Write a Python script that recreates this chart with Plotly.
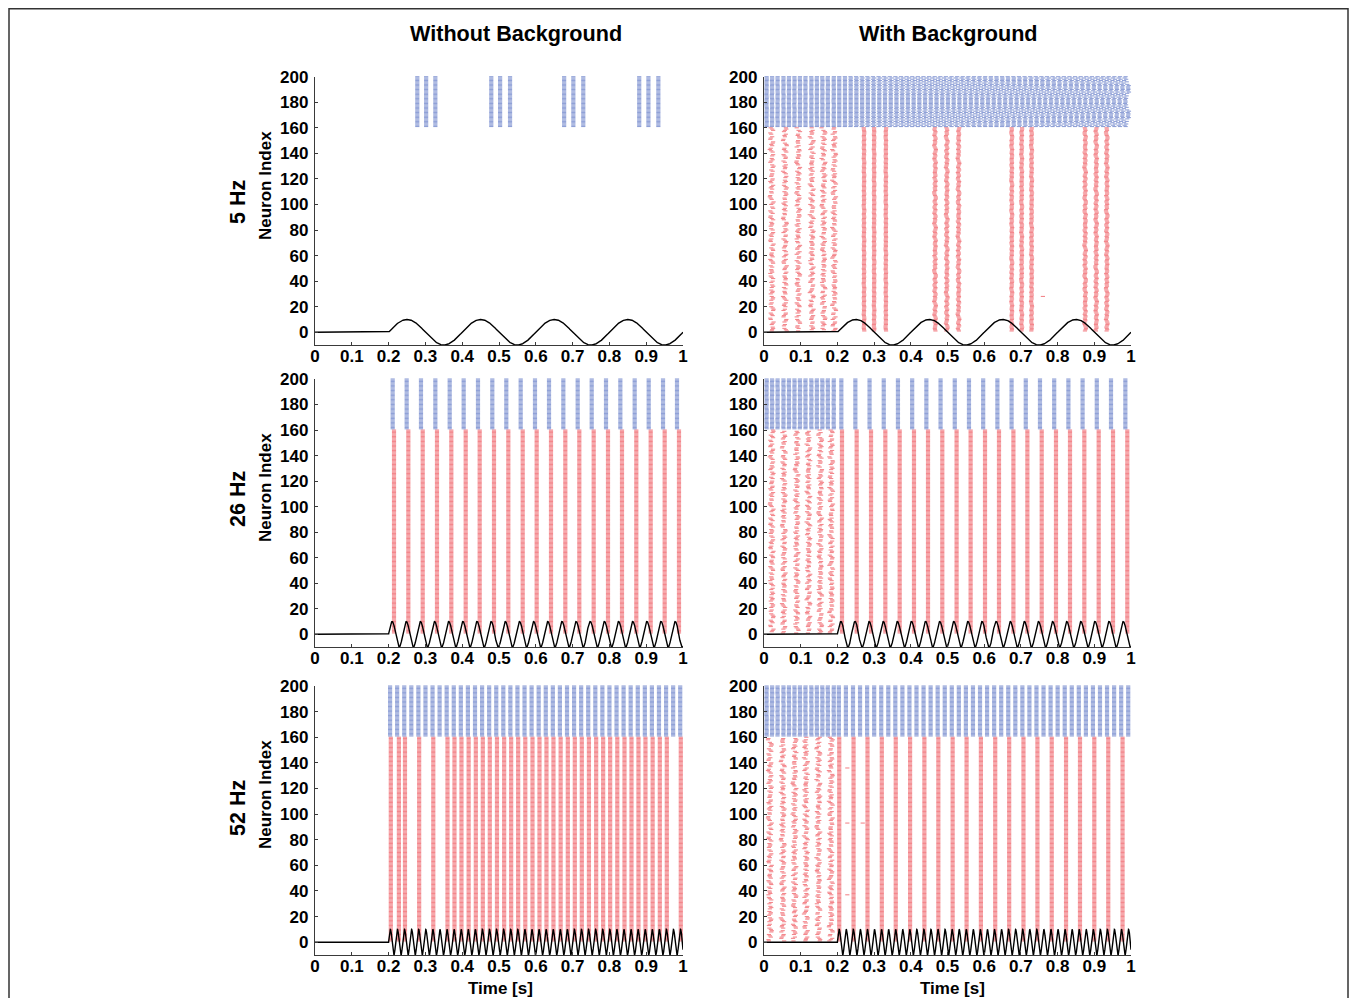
import math
import plotly.graph_objects as go

# reference canvas is 1357x998; the page body adds an 8 px margin
REF_W, REF_H = 1357, 998
OFF = 8
W, H = REF_W - 2 * OFF, REF_H - OFF

# ------------------------------------------------------------------ data
TIME_TICKS = [0, 0.1, 0.2, 0.3, 0.4, 0.5, 0.6, 0.7, 0.8, 0.9, 1]
TIME_TICK_LABELS = ["0", "0.1", "0.2", "0.3", "0.4", "0.5", "0.6", "0.7", "0.8", "0.9", "1"]
NEURON_TICKS = [0, 20, 40, 60, 80, 100, 120, 140, 160, 180, 200]
NEURON_TICK_LABELS = ["0", "20", "40", "60", "80", "100", "120", "140", "160", "180", "200"]
ROW_LABELS = ["5 Hz", "26 Hz", "52 Hz"]
COLUMN_TITLES = ["Without Background", "With Background"]
Y_LABEL = "Neuron Index"
X_LABEL = "Time [s]"

STIM_FREQ_HZ = [5, 26, 52]
STIM_ONSET_S = 0.2
STIM_AMPLITUDE = 10

E_FIRST, E_LAST = 1, 160      # excitatory neurons (red)
I_FIRST, I_LAST = 161, 200    # inhibitory neurons (blue)

# ---- without background: synchronous volleys (s)
I_VOLLEYS_5HZ = [0.278, 0.302, 0.327, 0.479, 0.503, 0.530,
                 0.677, 0.702, 0.729, 0.881, 0.906, 0.933]
E_VOLLEYS_5HZ = []
I_VOLLEYS_26HZ = [0.2111, 0.2491, 0.2880, 0.3270, 0.3660, 0.4040, 0.4429,
                  0.4818, 0.5198, 0.5589, 0.5978, 0.6359, 0.6748, 0.7138,
                  0.7519, 0.7908, 0.8297, 0.8687, 0.9068, 0.9457, 0.9837]
E_VOLLEYS_26HZ = [0.2147, 0.2536, 0.2927, 0.3315, 0.3704, 0.4095, 0.4475,
                  0.4864, 0.5253, 0.5644, 0.6024, 0.6413, 0.6802, 0.7182,
                  0.7573, 0.7962, 0.8342, 0.8731, 0.9122, 0.9502, 0.9891]
I_VOLLEYS_52HZ = [0.2040, 0.2232, 0.2425, 0.2617, 0.2809, 0.3002, 0.3194,
                  0.3386, 0.3578, 0.3771, 0.3963, 0.4155, 0.4348, 0.4540,
                  0.4732, 0.4925, 0.5117, 0.5309, 0.5501, 0.5694, 0.5886,
                  0.6078, 0.6271, 0.6463, 0.6655, 0.6848, 0.7040, 0.7232,
                  0.7424, 0.7617, 0.7809, 0.8001, 0.8194, 0.8386, 0.8578,
                  0.8771, 0.8963, 0.9155, 0.9347, 0.9540, 0.9732, 0.9924]
E_VOLLEYS_52HZ = [0.2060, 0.2280, 0.2445, 0.2830, 0.3214, 0.3600, 0.3790,
                  0.3980, 0.4175, 0.4370, 0.4560, 0.4750, 0.4945, 0.5140,
                  0.5330, 0.5520, 0.5714, 0.5910, 0.6100, 0.6290, 0.6480,
                  0.6675, 0.6870, 0.7060, 0.7250, 0.7444, 0.7640, 0.7830,
                  0.8020, 0.8214, 0.8410, 0.8600, 0.8790, 0.8980, 0.9175,
                  0.9370, 0.9560, 0.9940]

# ---- with background
BG_I_VOLLEYS_PRE = [0.007, 0.022, 0.037, 0.053, 0.068, 0.083, 0.098,
                    0.113, 0.129, 0.144, 0.159, 0.174, 0.190]
BG_E_WAVES_PRE_5HZ = [0.021, 0.057, 0.093, 0.130, 0.162, 0.191]
BG_E_WAVES_PRE_26HZ = [0.021, 0.054, 0.089, 0.121, 0.153, 0.183]
BG_E_WAVES_PRE_52HZ = [0.016, 0.051, 0.083, 0.114, 0.148, 0.182]

BG_E_VOLLEYS_5HZ = [0.2725, 0.300, 0.332, 0.466, 0.498, 0.530,
                    0.675, 0.702, 0.729, 0.875, 0.905, 0.934]
BG_E_VOLLEY_SPREAD_5HZ = [0.2, 0.2, 0.2, 0.6, 0.6, 0.6,
                          0.35, 0.35, 0.35, 0.55, 0.55, 0.55]
# inhibitory firing periods (ms) after onset, 5 Hz with background
BG_I_PERIODS_5HZ_MS = [15.30, 15.87, 15.33, 15.84, 15.36, 15.81, 15.39, 15.78,
                       15.42, 15.75, 15.45, 15.72, 15.48, 15.69, 15.51, 15.66,
                       15.54, 15.63, 15.57, 15.60, 15.60, 15.57, 15.63, 15.54,
                       15.66, 15.51, 15.69, 15.48, 15.72, 15.45, 15.75, 15.42,
                       15.78, 15.39, 15.81, 15.36, 15.84, 15.33, 15.87, 15.30]

BG_I_VOLLEYS_26HZ = [0.2107, 0.2489, 0.2876, 0.3263, 0.3650, 0.4037, 0.4424,
                     0.4811, 0.5198, 0.5585, 0.5972, 0.6359, 0.6746, 0.7133,
                     0.7520, 0.7907, 0.8294, 0.8681, 0.9068, 0.9455, 0.9846]
BG_E_VOLLEYS_26HZ = [0.2125, 0.2525, 0.2916, 0.3306, 0.3697, 0.4087, 0.4469,
                     0.4858, 0.5248, 0.5630, 0.6022, 0.6403, 0.6796, 0.7176,
                     0.7567, 0.7956, 0.8338, 0.8728, 0.9120, 0.9510, 0.9899]
BG_I_VOLLEYS_52HZ = I_VOLLEYS_52HZ
BG_E_VOLLEYS_52HZ = [0.205, 0.244, 0.282, 0.321, 0.359, 0.398, 0.437,
                     0.475, 0.514, 0.552, 0.591, 0.630, 0.668, 0.707,
                     0.745, 0.784, 0.823, 0.861, 0.900, 0.938, 0.977]

BG_STRAY_E_5HZ_T = [0.760]
BG_STRAY_E_5HZ_N = [28]
BG_STRAY_E_52HZ_T = [0.227, 0.227, 0.269, 0.227]
BG_STRAY_E_52HZ_N = [136, 93, 93, 37]

# hand-read wiggle of the noisy volleys (ms) and which cells are silent
WIGGLE_MS = [0, 1, 3, 2, -1, 0, 2, 4, 1, -2, -3, -1, 2, 0, -2, 1, 3, 4, 2, -1,
             -4, -2, 0, 1, -1, 2, 3, 0, -3, -2, 1, 2, -1, -3, 0, 3, 1, -2, -1,
             2, 4, 3, 0, -2, -4, -3, 1, 0, -1, 2, 1, -2, 0, 3, 2, -1, -3, 1, 2, 0, -1]
ACTIVE = [1, 1, 1, 1, 0, 1, 1, 1, 0, 1, 1, 0, 1, 1, 1, 0, 1, 1, 1, 1, 0, 1,
          1, 0, 1, 1, 1, 1, 0]

RED = "rgba(238,78,86,0.68)"
BLUE = "rgba(92,116,196,0.68)"


# ------------------------------------------------------------------ helpers
def volleys(times, first, last, spread=None, shift0=0, drop=False):
    xs, ys = [], []
    for c, t in enumerate(times):
        s = 0.0 if spread is None else (spread[c] if isinstance(spread, list) else spread)
        for k, n in enumerate(range(first, last + 1)):
            if drop and ACTIVE[(k + 5 * c + shift0) % len(ACTIVE)] == 0:
                continue
            w = WIGGLE_MS[(k + 17 * c + shift0) % len(WIGGLE_MS)]
            xs.append(t + s * w / 1000.0)
            ys.append(n)
    return xs, ys


def periodic(onset, end, periods_ms, first):
    xs, ys = [], []
    for j, p in enumerate(periods_ms):
        t = onset + 0.005
        while t <= end:
            xs.append(t)
            ys.append(first + j)
            t += p / 1000.0
    return xs, ys


def stimulus(freq):
    ts = [i / 4000.0 for i in range(4001)]
    ys = [0.0 if t < STIM_ONSET_S else
          STIM_AMPLITUDE * math.sin(2 * math.pi * freq * (t - STIM_ONSET_S))
          for t in ts]
    return ts, ys


def merge(*parts):
    xs, ys = [], []
    for a, b in parts:
        xs += a
        ys += b
    return xs, ys


# ------------------------------------------------------------------ panels
panels = {}
panels[(0, 0)] = dict(e=volleys(E_VOLLEYS_5HZ, E_FIRST, E_LAST),
                      i=volleys(I_VOLLEYS_5HZ, I_FIRST, I_LAST))
panels[(1, 0)] = dict(e=volleys(E_VOLLEYS_26HZ, E_FIRST, E_LAST),
                      i=volleys(I_VOLLEYS_26HZ, I_FIRST, I_LAST))
panels[(2, 0)] = dict(e=volleys(E_VOLLEYS_52HZ, E_FIRST, E_LAST),
                      i=volleys(I_VOLLEYS_52HZ, I_FIRST, I_LAST))

pre_i = volleys(BG_I_VOLLEYS_PRE, I_FIRST, I_LAST, spread=0.12, shift0=3)
panels[(0, 1)] = dict(
    e=merge(volleys(BG_E_WAVES_PRE_5HZ, E_FIRST, E_LAST, spread=1.3, drop=True),
            volleys(BG_E_VOLLEYS_5HZ, E_FIRST, E_LAST, spread=BG_E_VOLLEY_SPREAD_5HZ, shift0=7),
            (BG_STRAY_E_5HZ_T, BG_STRAY_E_5HZ_N)),
    i=merge(pre_i, periodic(0.2, 0.995, BG_I_PERIODS_5HZ_MS, I_FIRST)))
panels[(1, 1)] = dict(
    e=merge(volleys(BG_E_WAVES_PRE_26HZ, E_FIRST, E_LAST, spread=1.25, drop=True, shift0=4),
            volleys(BG_E_VOLLEYS_26HZ, E_FIRST, E_LAST)),
    i=merge(pre_i, volleys(BG_I_VOLLEYS_26HZ, I_FIRST, I_LAST)))
panels[(2, 1)] = dict(
    e=merge(volleys(BG_E_WAVES_PRE_52HZ, E_FIRST, E_LAST, spread=1.3, drop=True, shift0=9),
            volleys(BG_E_VOLLEYS_52HZ, E_FIRST, E_LAST),
            (BG_STRAY_E_52HZ_T, BG_STRAY_E_52HZ_N)),
    i=merge(pre_i, volleys(BG_I_VOLLEYS_52HZ, I_FIRST, I_LAST)))

# ------------------------------------------------------------------ layout (reference pixels)
COL_X = [(315, 683), (764, 1131)]
ROW_Y = [(76.7, 345), (379, 647), (686, 955)]


def fx(px):
    return (px - OFF) / W


def fy(py):
    return 1 - (py - OFF) / H


fig = go.Figure()
FONT = "Liberation Sans, Arial, Helvetica, sans-serif"

idx = 0
for r in range(3):
    for c in range(2):
        idx += 1
        xa = "x" if idx == 1 else f"x{idx}"
        ya = "y" if idx == 1 else f"y{idx}"
        p = panels[(r, c)]
        for key, col in (("e", RED), ("i", BLUE)):
            xs, ys = p[key]
            fig.add_trace(go.Scatter(
                x=xs, y=ys, mode="markers", xaxis=xa, yaxis=ya,
                marker=dict(symbol="line-ew", size=3.0,
                            line=dict(width=1.1, color=col)),
                hoverinfo="skip", showlegend=False, cliponaxis=False))
        ts, vs = stimulus(STIM_FREQ_HZ[r])
        fig.add_trace(go.Scatter(x=ts, y=vs, mode="lines", xaxis=xa, yaxis=ya,
                                 line=dict(color="black", width=1.4),
                                 hoverinfo="skip", showlegend=False))
        x0, x1 = COL_X[c]
        y0, y1 = ROW_Y[r]
        axcommon = dict(showline=True, linecolor="#3a3a3a", linewidth=1.3,
                        ticks="inside", ticklen=3, tickcolor="#3a3a3a",
                        showgrid=False, zeroline=False, automargin=False,
                        tickfont=dict(family=FONT, size=17, color="black", weight="bold"))
        fig.update_layout(**{
            ("xaxis" if idx == 1 else f"xaxis{idx}"): dict(
                domain=[fx(x0), fx(x1)], anchor=ya, range=[0, 1],
                tickvals=TIME_TICKS, ticktext=TIME_TICK_LABELS,
                ticklabelstandoff=-5, **axcommon),
            ("yaxis" if idx == 1 else f"yaxis{idx}"): dict(
                domain=[fy(y1), fy(y0)], anchor=xa, range=[-10, 200],
                tickvals=NEURON_TICKS, ticktext=NEURON_TICK_LABELS,
                ticklabelstandoff=2, **axcommon),
        })

ann = []


def text(s, x, y, size, angle=0):
    ann.append(dict(text=s, x=fx(x), y=fy(y), xref="paper", yref="paper",
                    showarrow=False, textangle=angle, xanchor="center", yanchor="middle",
                    font=dict(family=FONT, size=size, color="black", weight="bold")))


text(COLUMN_TITLES[0], 516, 33, 21.6)
text(COLUMN_TITLES[1], 948, 33, 21.6)
for r, (lab_y, idx_y) in enumerate([(202, 186), (499, 488), (808, 795)]):
    text(ROW_LABELS[r], 238, lab_y, 21.5, -90)
    text(Y_LABEL, 265, idx_y, 17, -90)
text(X_LABEL, 500, 988, 17)
text(X_LABEL, 952, 988, 17)

fig.update_layout(
    template="none",
    width=W, height=H, margin=dict(l=0, r=0, t=0, b=0, autoexpand=False),
    paper_bgcolor="white", plot_bgcolor="white",
    annotations=ann,
    shapes=[dict(type="rect", xref="paper", yref="paper",
                 x0=1 / W, x1=1 - 1 / W, y0=-0.02, y1=1 - 0.8 / H,
                 line=dict(color="#333333", width=1.5))],
)

fig.write_html("out.html")
